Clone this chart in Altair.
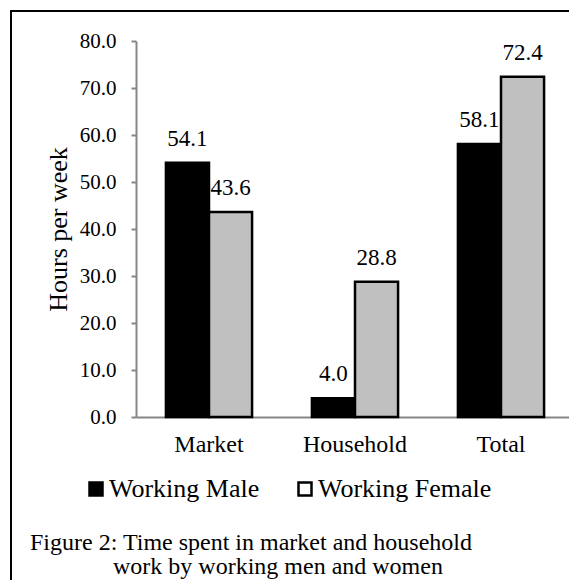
import altair as alt
import pandas as pd

categories = ["Market", "Household", "Total"]
groups = ["Working Male", "Working Female"]
male_hours = [54.1, 4.0, 58.1]
female_hours = [43.6, 28.8, 72.4]
y_ticks = [0, 10, 20, 30, 40, 50, 60, 70, 80]
y_title = "Hours per week"
caption_lines = [
    "Figure 2: Time spent in market and household",
    "work  by working men and women",
]

rows = []
for c, m, f in zip(categories, male_hours, female_hours):
    rows.append({"category": c, "group": groups[0], "hours": m})
    rows.append({"category": c, "group": groups[1], "hours": f})
df = pd.DataFrame(rows)

FONT = "Liberation Serif"
AXIS_GREY = "#868686"

x_enc = alt.X(
    "category:N",
    sort=categories,
    scale=alt.Scale(range=[0, 438], paddingInner=0.41, paddingOuter=0.205),
    axis=alt.Axis(
        title=None, labelAngle=0, ticks=False, labelPadding=15,
        labelFontSize=24, labelFont=FONT, labelColor="black",
        domainColor=AXIS_GREY, domainWidth=2,
    ),
)
xoff_enc = alt.XOffset("group:N", sort=groups, scale=alt.Scale(paddingInner=0, paddingOuter=0))
y_enc = alt.Y(
    "hours:Q",
    scale=alt.Scale(domain=[0, 80], nice=False),
    axis=alt.Axis(
        values=y_ticks, format=".1f", grid=False, tickSize=5,
        tickColor=AXIS_GREY, tickWidth=2, domainColor=AXIS_GREY, domainWidth=2,
        labelPadding=15, labelFontSize=21, labelFont=FONT, labelColor="black",
        title=y_title, titleFont=FONT, titleFontSize=26, titleFontWeight="normal",
        titleColor="black", titleX=-70, titleY=188, titleAngle=270,
        titleBaseline="alphabetic", titleAlign="center",
    ),
)

base = alt.Chart(df)

bars = base.mark_bar(stroke="black", strokeWidth=2.5).encode(
    x=x_enc,
    xOffset=xoff_enc,
    y=y_enc,
    fill=alt.Fill(
        "group:N",
        sort=groups,
        scale=alt.Scale(domain=groups, range=["black", "#c0c0c0"]),
        legend=None,
    ),
)

legend_layer = base.transform_filter("false").mark_square(
    filled=True, stroke="black", strokeWidth=2.5, opacity=1
).encode(
    fill=alt.Fill(
        "group:N",
        sort=groups,
        scale=alt.Scale(domain=groups, range=["black", "white"]),
        legend=alt.Legend(
            title=None, orient="none", legendX=-53, legendY=435,
            direction="horizontal", symbolType="square", symbolSize=169,
            symbolStrokeColor="black", symbolStrokeWidth=2.5, symbolOpacity=1,
            labelFont=FONT, labelFontSize=26, labelColor="black", labelLimit=400,
            labelOffset=0, columnPadding=32, padding=0,
        ),
    ),
)

labels = base.mark_text(
    dy=-17, baseline="alphabetic", fontSize=23, font=FONT, color="black"
).encode(
    x=x_enc, xOffset=xoff_enc, y=y_enc,
    text=alt.Text("hours:Q", format=".1f"),
)

one = pd.DataFrame({"k": [0]})
frame = alt.Chart(one).mark_rect(
    fill="white", fillOpacity=0, stroke="black", strokeWidth=2
).encode(
    x=alt.value(-125), x2=alt.value(700), y=alt.value(-30), y2=alt.value(800)
)

cap1 = alt.Chart(one).mark_text(
    align="left", baseline="alphabetic", fontSize=24, font=FONT, color="black"
).encode(x=alt.value(-106), y=alt.value(509), text=alt.value(caption_lines[0]))
cap2 = alt.Chart(one).mark_text(
    align="left", baseline="alphabetic", fontSize=24, font=FONT, color="black"
).encode(x=alt.value(-23), y=alt.value(533), text=alt.value(caption_lines[1]))

chart = alt.layer(frame, bars, labels, legend_layer, cap1, cap2).resolve_scale(
    fill="independent"
).properties(
    width=433, height=376,
    autosize=alt.AutoSizeParams(type="none"),
    padding={"left": 136, "top": 41, "right": 0, "bottom": 163},
    background="white",
).configure(
    font=FONT
).configure_axis(
    labelFont=FONT, titleFont=FONT
).configure_legend(
    labelFont=FONT
).configure_text(
    font=FONT
).configure_view(strokeWidth=0)

chart.save("out.html", embed_options={"renderer": "svg", "actions": False})
